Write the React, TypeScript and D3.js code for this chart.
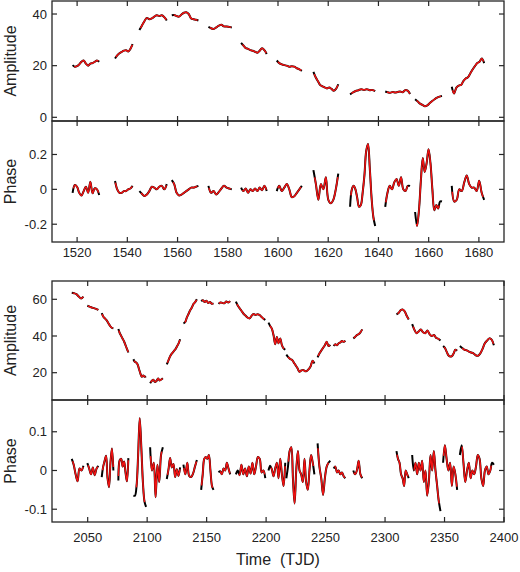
import React from "react";
import * as d3 from "d3";

// ---------- DATA ----------
// Top dataset (TJD 1510-1690): segment start/end times
const topSegStart = [1518.2, 1535.1, 1544.8, 1557.7, 1572.3, 1585.3, 1599.5, 1614.1, 1628.7, 1642.7, 1654.6, 1669.2];
const topSegEnd = [1528.8, 1542.1, 1555.7, 1568.3, 1581.6, 1595.5, 1609.5, 1624.0, 1638.7, 1652.6, 1665.3, 1682.1];
const topAmplitude = [
  [20.2, 19.6, 19.8, 20.5, 21.5, 22.0, 20.8, 20.0, 20.8, 21.0, 21.5, 22.0, 21.5],
  [22.8, 24.0, 24.8, 25.3, 25.8, 26.0, 25.5, 26.5, 28.3],
  [33.8, 35.5, 37.2, 38.5, 38.0, 38.3, 39.0, 39.5, 39.2, 39.5, 38.8, 37.5],
  [39.5, 39.6, 39.2, 39.0, 39.8, 40.5, 40.7, 40.0, 38.3, 38.0, 37.8, 37.5],
  [35.0, 34.5, 34.2, 34.8, 35.5, 35.8, 35.2, 35.2, 35.0, 34.8],
  [28.8, 27.8, 26.8, 26.5, 26.0, 25.8, 25.4, 25.0, 25.8, 26.7, 26.0, 24.5],
  [22.0, 21.0, 20.5, 20.2, 20.0, 19.6, 19.8, 19.6, 19.0, 18.6, 18.0],
  [17.6, 15.5, 14.0, 12.5, 12.0, 11.6, 11.2, 11.5, 11.0, 10.3, 11.0, 12.8],
  [8.9, 9.6, 10.2, 10.5, 10.9, 10.6, 10.9, 10.5, 10.6, 10.1],
  [10.0, 9.7, 9.5, 9.8, 9.6, 9.8, 10.0, 9.7, 10.5, 10.3, 9.0],
  [7.0, 6.2, 5.3, 4.8, 4.3, 4.6, 5.5, 6.3, 7.0, 7.6, 8.0, 8.3],
  [11.8, 9.2, 11.5, 12.3, 12.5, 14.0, 15.0, 15.5, 17.0, 18.5, 19.8, 21.0, 21.5, 22.8, 21.0],
];
const topPhase = [
  [-0.02, 0.025, 0.015, -0.02, -0.036, -0.01, 0.015, -0.02, 0.044, -0.023, 0.006, 0.0, -0.032],
  [0.048, 0.0, -0.02, -0.02, -0.01, -0.01, 0.0, 0.005, 0.02],
  [-0.01, -0.025, -0.038, -0.03, -0.01, 0.015, 0.01, 0.0, 0.015, 0.02, 0.0, 0.03],
  [0.053, 0.03, -0.02, -0.035, -0.03, -0.02, -0.01, 0.0, 0.01, 0.01, 0.015, 0.02],
  [0.02, -0.02, -0.01, -0.03, -0.015, 0.005, 0.02, 0.01, 0.005, 0.0],
  [0.01, -0.01, 0.005, -0.02, 0.0, -0.01, 0.005, -0.01, 0.01, -0.005, 0.02, -0.01],
  [-0.01, 0.02, -0.01, 0.01, 0.03, 0.0, -0.045, -0.04, -0.02, 0.0, 0.02],
  [0.11, 0.03, -0.06, 0.03, 0.0, 0.07, -0.06, -0.08, -0.06, 0.0, 0.09],
  [-0.1, 0.0, 0.02, 0.0, -0.05, -0.1, -0.09, -0.02, 0.08, 0.22, 0.26, 0.12, -0.05, -0.16, -0.21],
  [-0.1, -0.02, 0.02, 0.0, 0.04, 0.06, 0.02, 0.07, 0.0, -0.01, 0.02, 0.02],
  [-0.13, -0.21, -0.12, 0.05, 0.18, 0.1, 0.15, 0.23, 0.15, 0.0, -0.12, -0.09, -0.11, -0.07, -0.07],
  [0.02, -0.07, -0.06, 0.0, -0.01, 0.04, 0.08, 0.03, 0.01, 0.01, -0.01, 0.05, -0.02, -0.06],
];

// Bottom dataset (TJD 2020-2400)
const botSegStart = [2036.6, 2049.7, 2061.8, 2075.8, 2088.4, 2102.5, 2116.5, 2130.5, 2145.4, 2160.0, 2174.6, 2202.0, 2217.0, 2243.3, 2256.8, 2273.3, 2309.6, 2322.8, 2348.8, 2362.9];
const botSegEnd = [2046.4, 2059.0, 2071.6, 2084.2, 2099.1, 2113.2, 2127.7, 2141.8, 2155.8, 2169.8, 2199.3, 2216.1, 2240.6, 2254.0, 2266.6, 2280.8, 2319.9, 2346.6, 2360.6, 2391.5];
const botAmplitude = [
  [63.6, 63.3, 62.8, 61.5, 60.5, 61.5],
  [56.5, 56.0, 55.5, 55.2, 54.8, 54.2],
  [52.4, 50.5, 49.5, 48.5, 47.0, 45.5, 44.5, 44.2],
  [43.8, 41.5, 40.0, 38.5, 37.0, 35.0, 33.0, 31.0],
  [27.3, 26.0, 25.5, 24.5, 22.0, 19.5, 17.8, 18.5, 17.8, 18.0],
  [14.2, 15.5, 16.2, 15.0, 15.5, 16.8, 15.8, 16.3, 17.0],
  [24.5, 26.5, 28.5, 30.0, 31.0, 32.0, 33.0, 34.5, 36.0, 38.2],
  [46.9, 47.5, 50.0, 52.0, 54.0, 55.5, 57.5, 58.5, 60.0],
  [59.0, 59.5, 58.5, 59.2, 58.0, 58.5, 57.6, 57.8],
  [57.5, 58.3, 58.0, 57.8, 58.8, 58.2, 59.0],
  [58.7, 56.5, 55.0, 53.5, 52.0, 51.0, 50.0, 49.6, 51.0, 52.0, 51.5, 51.8, 51.5, 50.5, 49.5, 48.7],
  [47.3, 45.5, 44.0, 40.5, 35.5, 39.5, 36.0, 38.7, 35.0, 33.3, 32.5],
  [29.8, 28.5, 27.5, 27.0, 25.5, 24.0, 22.4, 20.5, 21.2, 21.5, 20.8, 21.0, 22.0, 23.5, 26.5, 25.0],
  [28.4, 30.5, 32.0, 33.5, 35.0, 36.9, 34.5, 35.2],
  [34.5, 35.5, 35.0, 36.0, 36.5, 37.3, 36.8, 37.5],
  [38.7, 39.5, 40.5, 41.0, 42.0, 43.6],
  [51.8, 52.5, 54.0, 54.5, 53.5, 51.0, 49.0],
  [46.5, 43.5, 41.5, 42.5, 43.5, 42.0, 41.5, 43.0, 41.0, 40.0, 40.5, 39.0, 38.5, 37.5],
  [34.5, 33.5, 31.5, 29.5, 28.8, 29.0, 30.5, 32.5, 32.0],
  [34.5, 33.5, 32.5, 32.2, 31.5, 31.0, 30.5, 29.5, 29.2, 30.5, 33.0, 36.0, 37.5, 38.7, 38.0, 35.0],
];
const botPhase = [
  [0.03, 0.015, -0.01, -0.028, 0.005, 0.0, 0.012],
  [0.019, 0.005, -0.01, 0.008, -0.012, 0.005, 0.012],
  [-0.017, 0.01, 0.025, 0.038, -0.02, -0.043, 0.02, 0.057, 0.0],
  [-0.026, 0.027, 0.03, 0.01, 0.023, -0.005, -0.028, 0.032],
  [-0.065, -0.065, -0.04, 0.04, 0.135, 0.06, -0.03, -0.08, -0.094],
  [0.06, 0.0, 0.02, -0.069, 0.015, -0.03, 0.04, 0.06],
  [-0.022, 0.002, 0.032, 0.008, 0.017, -0.017, 0.003, -0.014, 0.008],
  [0.015, -0.01, 0.02, -0.014, -0.017, -0.008, 0.01, 0.027],
  [-0.05, -0.01, 0.03, 0.035, 0.03, 0.04, 0.0, -0.04, -0.05],
  [-0.005, -0.002, -0.01, 0.005, 0.0, 0.02, 0.005, -0.01],
  [-0.01, 0.0, -0.012, 0.015, -0.01, 0.005, -0.015, 0.01, -0.008, 0.02, -0.01, 0.012, 0.035, 0.03, -0.005, 0.0, -0.02],
  [0.0, 0.012, 0.003, -0.015, 0.005, 0.02, -0.02, 0.03, -0.01, -0.04, 0.02],
  [-0.02, 0.01, 0.05, 0.06, -0.02, -0.085, 0.0, 0.05, 0.0, -0.01, -0.03, 0.03, -0.03, -0.05, 0.0, 0.04, 0.02, -0.01],
  [0.07, 0.01, -0.02, -0.063, -0.02, 0.01, 0.02, 0.025],
  [0.005, 0.01, -0.005, 0.0, -0.01, -0.005, -0.015, -0.02],
  [0.0, -0.01, 0.0, 0.025, -0.01, -0.02],
  [0.05, 0.03, 0.02, -0.01, -0.02, -0.04, 0.0, -0.01, -0.02],
  [0.04, 0.0, 0.02, -0.01, 0.02, 0.0, 0.025, -0.03, 0.0, -0.065, -0.03, 0.04, 0.0, 0.05, 0.0, -0.04, -0.08, -0.105],
  [0.02, 0.065, 0.03, 0.0, 0.02, -0.04, 0.01, -0.01, -0.05],
  [0.04, 0.065, 0.02, -0.03, 0.0, 0.02, -0.02, 0.0, -0.01, 0.01, 0.04, 0.03, -0.02, -0.04, 0.0, 0.01, -0.01, 0.0, 0.02, 0.015],
];

const topXTicks = [1520, 1540, 1560, 1580, 1600, 1620, 1640, 1660, 1680];
const botXTicks = [2050, 2100, 2150, 2200, 2250, 2300, 2350, 2400];
const topAmpTicks = [0, 20, 40];
const topPhaseTicks = [-0.2, 0, 0.2];
const botAmpTicks = [20, 40, 60];
const botPhaseTicks = [-0.1, 0, 0.1];

// ---------- LAYOUT ----------
const W = 520, H = 572;
const L = 52, R = 504;
const FONT = "'Liberation Sans', Arial, Helvetica, sans-serif";
const RED = "#f01212";
const AXIS = "#262626";

type Seg = [number, number][];

function buildSegs(starts: number[], ends: number[], vals: number[][]): Seg[] {
  return vals.map((vs, i) => {
    const t = d3.scaleLinear().domain([0, vs.length - 1]).range([starts[i], ends[i]]);
    return vs.map((v, j) => [t(j), v] as [number, number]);
  });
}

function Panel(props: {
  x: d3.ScaleLinear<number, number>;
  y: d3.ScaleLinear<number, number>;
  y0: number; y1: number;
  segs: Seg[];
  xTicks: number[];
  yTicks: number[];
  yLabel: string;
  fmt: (v: number) => string;
}) {
  const { x, y, y0, y1, segs, xTicks, yTicks, yLabel, fmt } = props;
  const line = d3.line<[number, number]>()
    .x((d) => x(d[0]))
    .y((d) => y(d[1]))
    .curve(d3.curveCatmullRom.alpha(0.5));
  const tk = 5;
  return (
    <g>
      {segs.map((s, i) => (
        <path key={"b" + i} d={line(s) || ""} fill="none" stroke="#000" strokeWidth={2.0} strokeLinejoin="round" />
      ))}
      {segs.map((s, i) => (
        <path key={"r" + i} d={line(s) || ""} fill="none" stroke={RED} strokeWidth={1.5}
          strokeLinejoin="round" pathLength={100} strokeDasharray="0 6 91 3" />
      ))}
      <rect x={L} y={y0} width={R - L} height={y1 - y0} fill="none" stroke={AXIS} strokeWidth={1.3} />
      {xTicks.map((t) => (
        <g key={"xt" + t}>
          <line x1={x(t)} x2={x(t)} y1={y0} y2={y0 + tk} stroke={AXIS} strokeWidth={1.2} />
          <line x1={x(t)} x2={x(t)} y1={y1} y2={y1 - tk} stroke={AXIS} strokeWidth={1.2} />
        </g>
      ))}
      {yTicks.map((v) => (
        <g key={"yt" + v}>
          <line x1={L} x2={L + tk} y1={y(v)} y2={y(v)} stroke={AXIS} strokeWidth={1.2} />
          <line x1={R} x2={R - tk} y1={y(v)} y2={y(v)} stroke={AXIS} strokeWidth={1.2} />
          <text x={L - 5} y={y(v) + 4.6} textAnchor="end" fontSize={13} fill="#222" fontFamily={FONT}>{fmt(v)}</text>
        </g>
      ))}
      <text transform={`translate(15.5,${(y0 + y1) / 2}) rotate(-90)`} textAnchor="middle" fontSize={16} fill="#222" fontFamily={FONT}>{yLabel}</text>
    </g>
  );
}

export default function App() {
  const xTop = d3.scaleLinear().domain([1510, 1690]).range([L, R]);
  const xBot = d3.scaleLinear().domain([2020, 2400]).range([L, R]);
  const p1 = { y0: 1, y1: 121 };
  const p2 = { y0: 121, y1: 242 };
  const p3 = { y0: 281, y1: 400 };
  const p4 = { y0: 400, y1: 522 };
  const yA1 = d3.scaleLinear().domain([-1.43, 45.04]).range([p1.y1, p1.y0]);
  const yP1 = d3.scaleLinear().domain([-0.302, 0.392]).range([p2.y1, p2.y0]);
  const yA2 = d3.scaleLinear().domain([5.12, 69.97]).range([p3.y1, p3.y0]);
  const yP2 = d3.scaleLinear().domain([-0.133, 0.182]).range([p4.y1, p4.y0]);

  const fmt = (v: number) => (v === 0 ? "0" : String(v));

  return (
    <svg width={W} height={H} style={{ position: "absolute", left: 0, top: 0, background: "#fff" }}>
      <Panel x={xTop} y={yA1} {...p1} segs={buildSegs(topSegStart, topSegEnd, topAmplitude)} xTicks={topXTicks} yTicks={topAmpTicks} yLabel="Amplitude" fmt={fmt} />
      <Panel x={xTop} y={yP1} {...p2} segs={buildSegs(topSegStart, topSegEnd, topPhase)} xTicks={topXTicks} yTicks={topPhaseTicks} yLabel="Phase" fmt={fmt} />
      {topXTicks.map((t) => (
        <text key={"tl" + t} x={xTop(t)} y={257} textAnchor="middle" fontSize={13} fill="#222" fontFamily={FONT}>{t}</text>
      ))}
      <Panel x={xBot} y={yA2} {...p3} segs={buildSegs(botSegStart, botSegEnd, botAmplitude)} xTicks={botXTicks} yTicks={botAmpTicks} yLabel="Amplitude" fmt={fmt} />
      <Panel x={xBot} y={yP2} {...p4} segs={buildSegs(botSegStart, botSegEnd, botPhase)} xTicks={botXTicks} yTicks={botPhaseTicks} yLabel="Phase" fmt={fmt} />
      {botXTicks.map((t) => (
        <text key={"bl" + t} x={xBot(t)} y={542} textAnchor="middle" fontSize={13} fill="#222" fontFamily={FONT}>{t}</text>
      ))}
      <text x={(L + R) / 2} y={565} textAnchor="middle" fontSize={16} fill="#222" fontFamily={FONT} style={{ whiteSpace: "pre" }}>{"Time  (TJD)"}</text>
    </svg>
  );
}
